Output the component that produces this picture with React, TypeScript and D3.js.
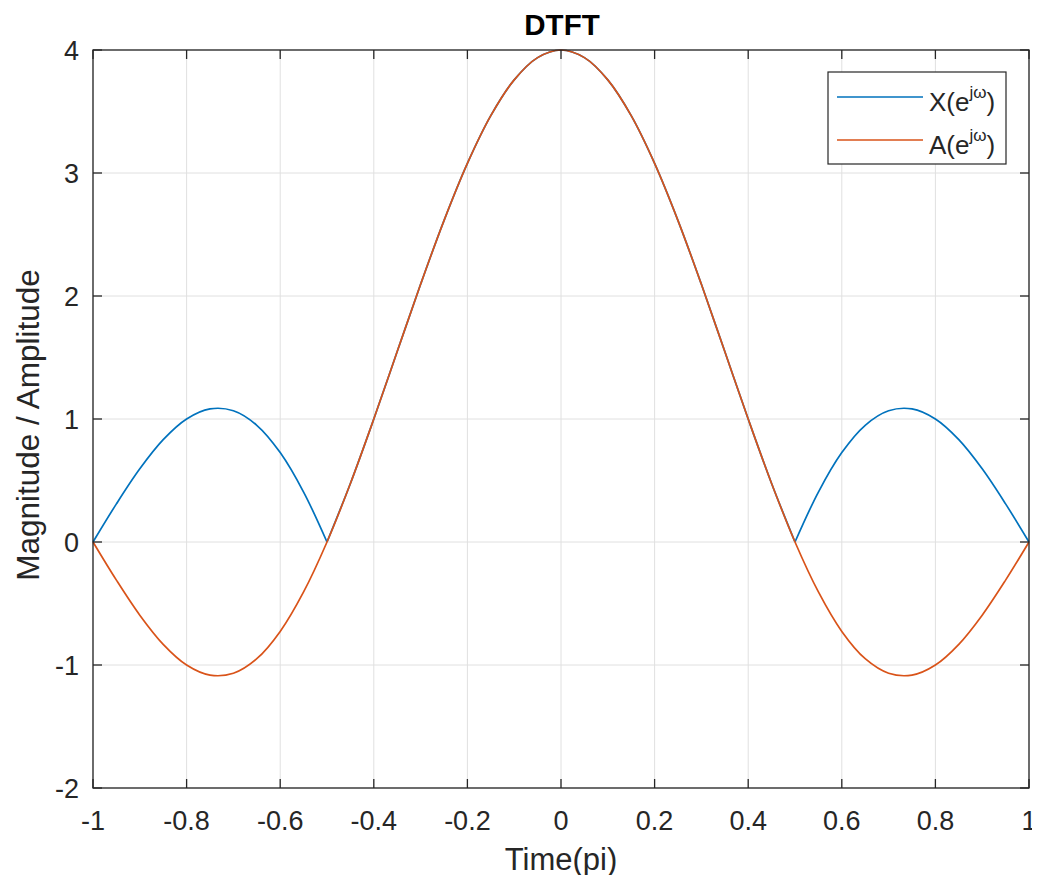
import React, { useEffect, useRef } from 'react';
import * as d3 from 'd3';

// frequency samples, in units of pi
const omega = [
  -1, -0.95, -0.9, -0.85, -0.8, -0.75, -0.7, -0.65, -0.6, -0.55, -0.5,
  -0.45, -0.4, -0.35, -0.3, -0.25, -0.2, -0.15, -0.1, -0.05, 0,
  0.05, 0.1, 0.15, 0.2, 0.25, 0.3, 0.35, 0.4, 0.45, 0.5,
  0.55, 0.6, 0.65, 0.7, 0.75, 0.8, 0.85, 0.9, 0.95, 1,
];
// amplitude A(e^jw)
const amplitude = [
  0, -0.31, -0.595, -0.832, -1.0, -1.082, -1.067, -0.949, -0.727, -0.406, 0,
  0.476, 1.0, 1.548, 2.095, 2.613, 3.078, 3.466, 3.757, 3.938, 4,
  3.938, 3.757, 3.466, 3.078, 2.613, 2.095, 1.548, 1.0, 0.476, 0,
  -0.406, -0.727, -0.949, -1.067, -1.082, -1.0, -0.832, -0.595, -0.31, 0,
];
// magnitude |X(e^jw)|
const magnitude = [
  0, 0.31, 0.595, 0.832, 1.0, 1.082, 1.067, 0.949, 0.727, 0.406, 0,
  0.476, 1.0, 1.548, 2.095, 2.613, 3.078, 3.466, 3.757, 3.938, 4,
  3.938, 3.757, 3.466, 3.078, 2.613, 2.095, 1.548, 1.0, 0.476, 0,
  0.406, 0.727, 0.949, 1.067, 1.082, 1.0, 0.832, 0.595, 0.31, 0,
];
// the magnitude has corners where it touches zero
const magnitudeBreaks = [-0.5, 0.5];

const xTicks = [-1, -0.8, -0.6, -0.4, -0.2, 0, 0.2, 0.4, 0.6, 0.8, 1];
const yTicks = [-2, -1, 0, 1, 2, 3, 4];

const BLUE = '#0072BD';
const ORANGE = '#D95319';
const AXIS = '#262626';
const FONT = '"Liberation Sans", Arial, Helvetica, sans-serif';

export default function App() {
  const ref = useRef<SVGSVGElement>(null);

  useEffect(() => {
    const width = 1040;
    const height = 883;
    const left = 93, right = 1029, top = 50, bottom = 788;

    const svg = d3.select(ref.current);
    svg.selectAll('*').remove();

    const x = d3.scaleLinear().domain([-1, 1]).range([left, right]);
    const y = d3.scaleLinear().domain([-2, 4]).range([bottom, top]);

    svg.append('rect').attr('width', width).attr('height', height).attr('fill', '#fff');

    // grid
    const grid = svg.append('g').attr('stroke', '#e0e0e0').attr('stroke-width', 1);
    xTicks.forEach(t => {
      grid.append('line').attr('x1', x(t)).attr('x2', x(t)).attr('y1', top).attr('y2', bottom);
    });
    yTicks.forEach(t => {
      grid.append('line').attr('x1', left).attr('x2', right).attr('y1', y(t)).attr('y2', y(t));
    });

    // curves
    const pts = omega.map((w, i) => ({ w, a: amplitude[i], m: magnitude[i] }));
    const line = d3.line<{ w: number; v: number }>()
      .x(d => x(d.w))
      .y(d => y(d.v))
      .curve(d3.curveCatmullRom.alpha(0.5));

    const edges = [-1, ...magnitudeBreaks, 1];
    for (let k = 0; k < edges.length - 1; k++) {
      const seg = pts
        .filter(p => p.w >= edges[k] - 1e-9 && p.w <= edges[k + 1] + 1e-9)
        .map(p => ({ w: p.w, v: p.m }));
      svg.append('path')
        .attr('d', line(seg))
        .attr('fill', 'none')
        .attr('stroke', BLUE)
        .attr('stroke-width', 1.7);
    }
    svg.append('path')
      .attr('d', line(pts.map(p => ({ w: p.w, v: p.a }))))
      .attr('fill', 'none')
      .attr('stroke', ORANGE)
      .attr('stroke-width', 1.7);

    // axes box and ticks
    const ax = svg.append('g').attr('stroke', AXIS).attr('stroke-width', 1.3).attr('fill', 'none');
    ax.append('rect').attr('x', left).attr('y', top).attr('width', right - left).attr('height', bottom - top);
    const tl = 9;
    xTicks.forEach(t => {
      ax.append('line').attr('x1', x(t)).attr('x2', x(t)).attr('y1', bottom).attr('y2', bottom - tl);
      ax.append('line').attr('x1', x(t)).attr('x2', x(t)).attr('y1', top).attr('y2', top + tl);
    });
    yTicks.forEach(t => {
      ax.append('line').attr('x1', left).attr('x2', left + tl).attr('y1', y(t)).attr('y2', y(t));
      ax.append('line').attr('x1', right).attr('x2', right - tl).attr('y1', y(t)).attr('y2', y(t));
    });

    // tick labels
    const txt = svg.append('g').attr('font-family', FONT).attr('fill', AXIS).attr('font-size', 27);
    xTicks.forEach(t => {
      txt.append('text')
        .attr('x', x(t))
        .attr('y', bottom + 42)
        .attr('text-anchor', 'middle')
        .text(String(t));
    });
    yTicks.forEach(t => {
      txt.append('text')
        .attr('x', left - 14)
        .attr('y', y(t) + 10)
        .attr('text-anchor', 'end')
        .text(String(t));
    });

    // labels
    svg.append('text')
      .attr('x', (left + right) / 2 + 1)
      .attr('y', 35)
      .attr('text-anchor', 'middle')
      .attr('font-family', FONT)
      .attr('font-weight', 'bold')
      .attr('font-size', 29.5)
      .attr('fill', '#000')
      .text('DTFT');
    svg.append('text')
      .attr('x', (left + right) / 2)
      .attr('y', 870)
      .attr('text-anchor', 'middle')
      .attr('font-family', FONT)
      .attr('font-size', 31)
      .attr('fill', AXIS)
      .text('Time(pi)');
    svg.append('text')
      .attr('transform', `translate(39,${(top + bottom) / 2 + 6}) rotate(-90)`)
      .attr('text-anchor', 'middle')
      .attr('font-family', FONT)
      .attr('font-size', 31.5)
      .attr('fill', AXIS)
      .text('Magnitude / Amplitude');

    // legend
    const lg = svg.append('g');
    lg.append('rect')
      .attr('x', 828).attr('y', 72).attr('width', 178).attr('height', 92)
      .attr('fill', '#fff').attr('stroke', AXIS).attr('stroke-width', 1.2);
    const entries = [
      { name: 'X', color: BLUE, yy: 97 },
      { name: 'A', color: ORANGE, yy: 140 },
    ];
    entries.forEach(e => {
      lg.append('line')
        .attr('x1', 837).attr('x2', 923).attr('y1', e.yy).attr('y2', e.yy)
        .attr('stroke', e.color).attr('stroke-width', 1.7);
      const t = lg.append('text')
        .attr('x', 929).attr('y', e.yy + 14)
        .attr('font-family', FONT).attr('font-size', 26).attr('fill', AXIS);
      t.append('tspan').text(`${e.name}(e`);
      t.append('tspan').attr('font-size', 17).attr('dy', -13).text('jω');
      t.append('tspan').attr('dy', 13).text(')');
    });
  }, []);

  return (
    <svg ref={ref} width={1040} height={883} style={{ display: 'block', margin: '-8px' }} />
  );
}
